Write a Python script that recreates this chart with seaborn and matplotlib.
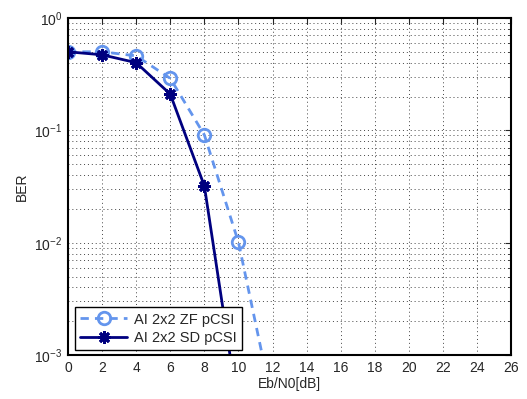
import numpy as np
import pandas as pd
import matplotlib
matplotlib.use("Agg")
import matplotlib.pyplot as plt
import seaborn as sns
from matplotlib.ticker import LogLocator, FixedLocator, NullFormatter

# Eb/N0 grid and bit error rates
snr_db = [0, 2, 4, 6, 8, 10, 12]
ber_zf = [0.50, 0.50, 0.46, 0.29, 0.091, 0.0101, 0.00037]
ber_sd = [0.50, 0.47, 0.40, 0.21, 0.032, 0.00032, 0.00002]
labels = ["AI 2x2 ZF pCSI", "AI 2x2 SD pCSI"]
x_ticks = list(range(0, 27, 2))

zf_color = "#6495ED"
sd_color = "#00007F"

sns.set_style("white")
plt.rcParams["font.family"] = ["Liberation Sans", "DejaVu Sans"]
plt.rcParams["font.size"] = 10

fig = plt.figure(figsize=(5.27, 3.99), dpi=100)
ax = fig.add_axes([0.129, 0.110, 0.841, 0.845])

sns.lineplot(x=snr_db, y=ber_zf, color=zf_color, linewidth=2, linestyle=(0, (3, 2.2)),
             marker="o", markersize=9, markerfacecolor="none", markeredgewidth=2,
             markeredgecolor=zf_color, ax=ax, label=labels[0])
sns.lineplot(x=snr_db, y=ber_sd, color=sd_color, linewidth=2, linestyle="-",
             marker=(8, 2, 0), markersize=9, markeredgewidth=2,
             markeredgecolor=sd_color, ax=ax, label=labels[1])

ax.set_yscale("log")
ax.set_xlim(0, 26)
ax.set_ylim(1e-3, 1)
ax.xaxis.set_major_locator(FixedLocator(x_ticks))
ax.yaxis.set_major_locator(LogLocator(base=10, numticks=10))
ax.yaxis.set_minor_locator(LogLocator(base=10, subs=np.arange(2, 10), numticks=20))
ax.yaxis.set_minor_formatter(NullFormatter())

ax.grid(True, which="major", linestyle=(0, (1, 3)), color="#444444", linewidth=0.7)
ax.grid(True, which="minor", axis="y", linestyle=(0, (1, 3)), color="#444444", linewidth=0.7)
ax.tick_params(which="both", direction="in", top=True, right=True, labelsize=10, pad=4)
ax.tick_params(which="major", length=4)
ax.tick_params(which="minor", length=2)
for sp in ax.spines.values():
    sp.set_linewidth(1.5)
    sp.set_color("black")

ax.set_xlabel("Eb/N0[dB]", fontsize=10, labelpad=2)
ax.set_ylabel("BER", fontsize=10, labelpad=4)

leg = ax.legend(loc="lower left", bbox_to_anchor=(0.016, 0.015), borderaxespad=0,
                frameon=True, fancybox=False, edgecolor="black", fontsize=10.5,
                handlelength=3.2, borderpad=0.35, labelspacing=0.3, handletextpad=0.5)
leg.get_frame().set_linewidth(1.0)
leg.get_frame().set_alpha(1)

fig.savefig("out.png", dpi=100)
